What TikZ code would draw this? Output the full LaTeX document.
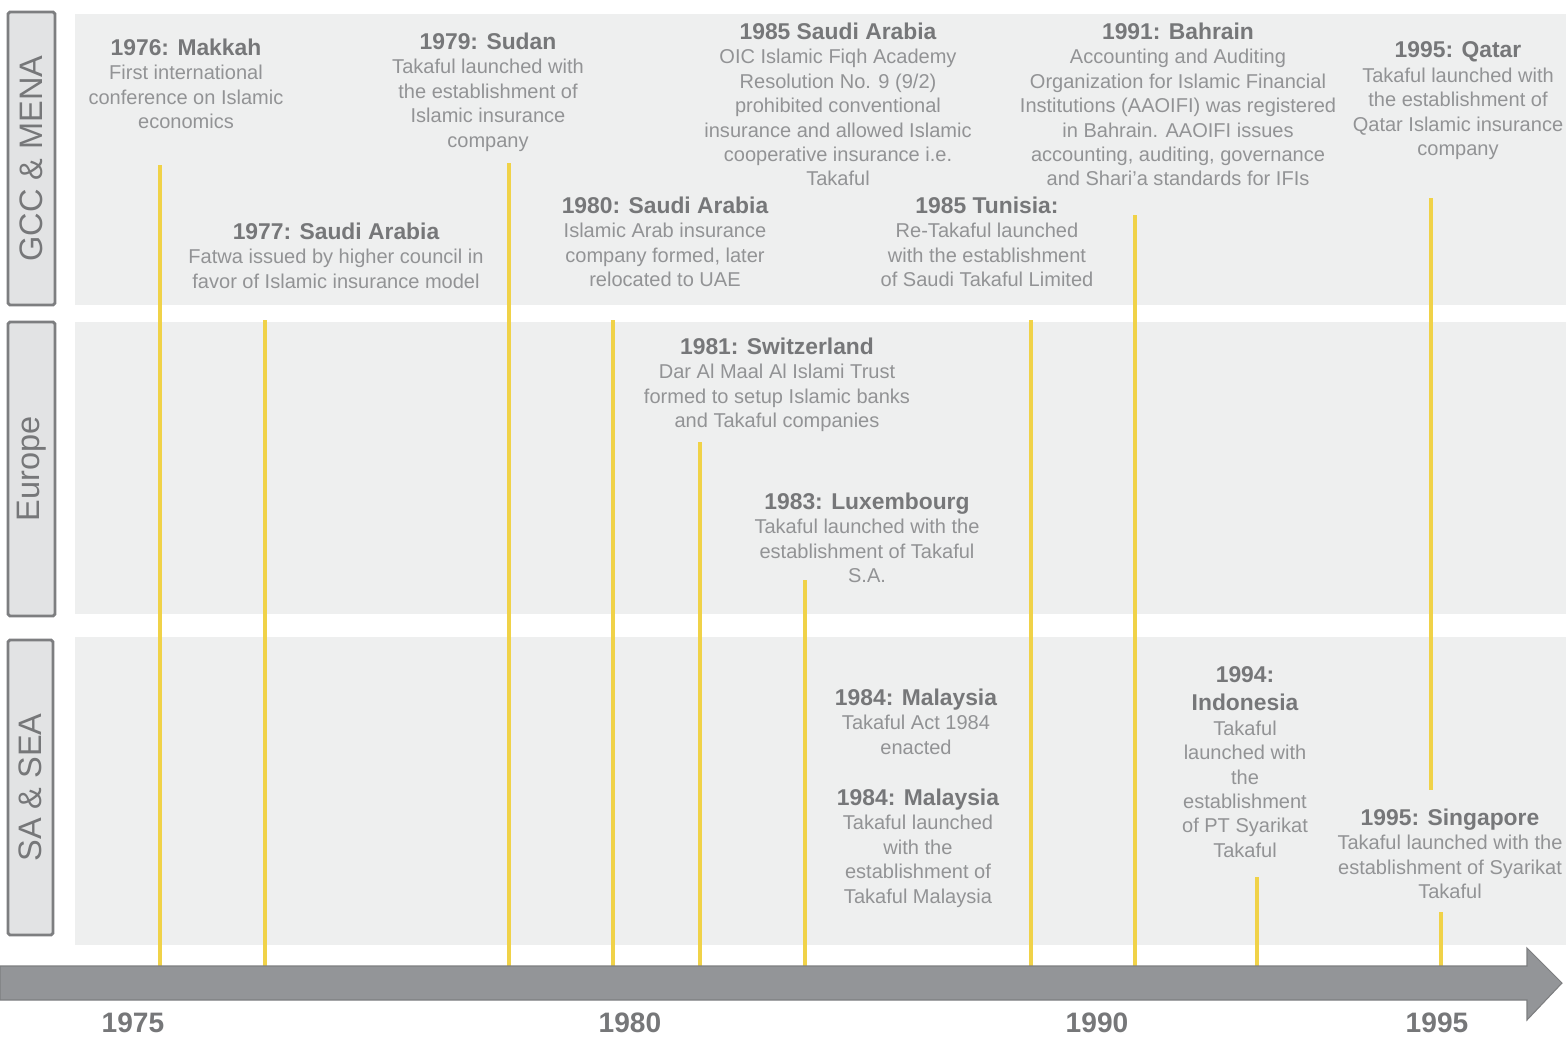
\documentclass[tikz,border=0pt]{standalone}
\usepackage{fontspec}
\setmainfont{Liberation Sans}
\usepackage{xcolor}

\definecolor{bandgray}{RGB}{238,239,239}
\definecolor{boxgray}{RGB}{226,227,228}
\definecolor{edgegray}{RGB}{125,126,128}
\definecolor{axisgray}{RGB}{147,149,152}
\definecolor{ttlgray}{RGB}{118,119,121}
\definecolor{txtgray}{RGB}{146,147,149}
\definecolor{stemyellow}{RGB}{240,210,72}

\newcommand\ttl[1]{{\fontsize{13}{15}\selectfont\bfseries\color{ttlgray}#1}}

\begin{document}
\begin{tikzpicture}[x=0.02cm,y=-0.02cm,
  band/.style={fill=bandgray},
  regbox/.style={draw=edgegray,fill=boxgray,line width=1.6pt,rotate=90,text=ttlgray,
    font=\fontsize{18.5}{20}\selectfont,inner sep=0pt,rounded corners=1pt},
  event/.style={anchor=north,align=center,inner sep=0pt,text=txtgray,
    font=\fontsize{11.4}{13.9}\selectfont},
  stem/.style={draw=stemyellow,line width=2.3pt},
  yr/.style={text=ttlgray,font=\fontsize{16}{18}\selectfont\bfseries}]
\useasboundingbox (0,0) rectangle (1566,1038);

\fill[band] (75,14) rectangle (1566,305);
\fill[band] (75,322) rectangle (1566,614);
\fill[band] (75,637) rectangle (1566,945);

\node[regbox,minimum width=5.86cm,minimum height=0.94cm] (gcc) at (31.5,158.5) {GCC \& MENA};
\node[regbox,minimum width=5.88cm,minimum height=0.94cm] (europe) at (31.5,469) {Europe};
\node[regbox,minimum width=5.9cm,minimum height=0.9cm] (sasea) at (30.5,787.5) {SA \& SEA};

\foreach \x/\top/\bot [count=\i] in {160/165/966, 265/320/966, 509/163/966, 613/320/966,
    700/442/966, 805/580/966, 1031/320/966, 1135/215/966, 1257/877/966, 1431/198/790,
    1441/912/966}{
  \coordinate (top\i) at (\x,\top);
  \coordinate (foot\i) at (\x,\bot);
  \draw[stem] (top\i) -- (foot\i);
}

\fill[axisgray,draw=edgegray,line width=0.6pt] (0,966) -- (1527,966) -- (1527,948) -- (1562,983)
  -- (1527,1020) -- (1527,1000) -- (0,1000) -- cycle;

\node[yr] (y1975) at (133,1023) {1975};
\node[yr] (y1980) at (630,1023) {1980};
\node[yr] (y1990) at (1097,1023) {1990};
\node[yr] (y1995) at (1437,1023) {1995};

\node[event] (makkah) at (186,38.5) {\ttl{1976: Makkah}\\First international\\conference on Islamic\\economics};
\node[event] (fatwa) at (336,222.5) {\ttl{1977: Saudi Arabia}\\Fatwa issued by higher council in\\favor of Islamic insurance model};
\node[event] (sudan) at (488,32.5) {\ttl{1979: Sudan}\\Takaful launched with\\the establishment of\\Islamic insurance\\company};
\node[event] (arab) at (665,196.5) {\ttl{1980: Saudi Arabia}\\Islamic Arab insurance\\company formed, later\\relocated to UAE};
\node[event] (fiqh) at (838,22.5) {\ttl{1985 Saudi Arabia}\\OIC Islamic Fiqh Academy\\Resolution No. 9 (9/2)\\prohibited conventional\\insurance and allowed Islamic\\cooperative insurance i.e.\\Takaful};
\node[event] (tunisia) at (987,196.5) {\ttl{1985 Tunisia:}\\Re-Takaful launched\\with the establishment\\of Saudi Takaful Limited};
\node[event] (bahrain) at (1178,22.5) {\ttl{1991: Bahrain}\\Accounting and Auditing\\Organization for Islamic Financial\\Institutions (AAOIFI) was registered\\in Bahrain. AAOIFI issues\\accounting, auditing, governance\\and Shari'a standards for IFIs};
\node[event] (qatar) at (1458,41.5) {\ttl{1995: Qatar}\\Takaful launched with\\the establishment of\\Qatar Islamic insurance\\company};

\node[event] (swiss) at (777,337.5) {\ttl{1981: Switzerland}\\Dar Al Maal Al Islami Trust\\formed to setup Islamic banks\\and Takaful companies};
\node[event] (luxem) at (867,492.5) {\ttl{1983: Luxembourg}\\Takaful launched with the\\establishment of Takaful\\S.A.};

\node[event] (actmy) at (916,688.5) {\ttl{1984: Malaysia}\\Takaful Act 1984\\enacted};
\node[event] (takmy) at (918,788.5) {\ttl{1984: Malaysia}\\Takaful launched\\with the\\establishment of\\Takaful Malaysia};
\node[event] (indon) at (1245,666.5) {\ttl{1994:}\\[2pt]\ttl{Indonesia}\\Takaful\\launched with\\the\\establishment\\of PT Syarikat\\Takaful};
\node[event] (singa) at (1450,808.5) {\ttl{1995: Singapore}\\Takaful launched with the\\establishment of Syarikat\\Takaful};
\end{tikzpicture}
\end{document}
